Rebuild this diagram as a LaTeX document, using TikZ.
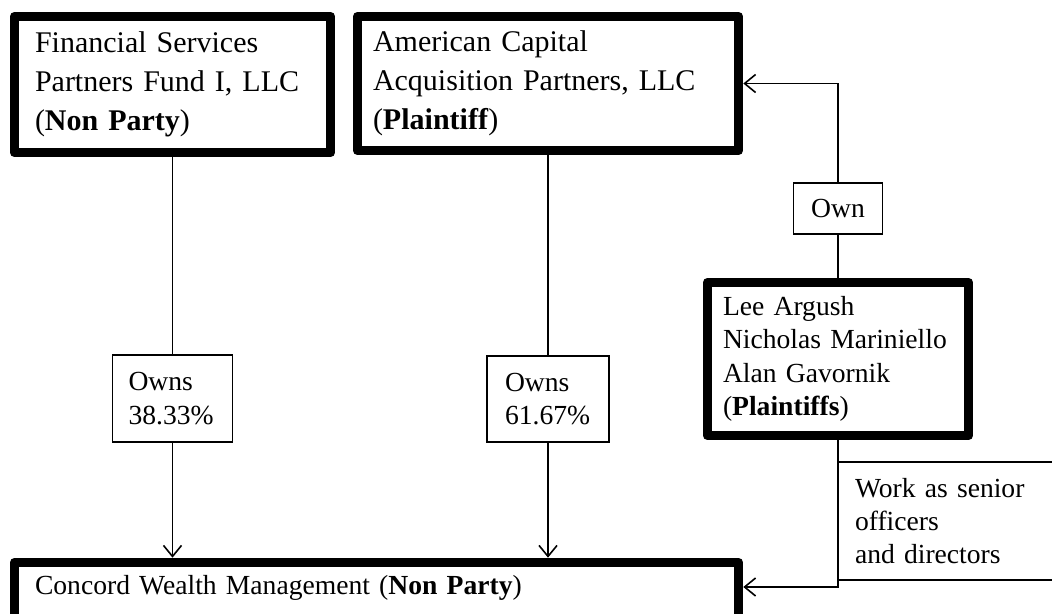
\documentclass[tikz,border=0pt]{standalone}
\usepackage{fontspec}
\setmainfont{Liberation Serif}
\usetikzlibrary{arrows.meta}

\begin{document}
\begin{tikzpicture}[x=0.5pt, y=-0.5pt,
  party/.style={draw, line width=4.75pt, line join=round, outer sep=0pt, anchor=north west, align=left, font=\fontsize{15}{19.5}\selectfont},
  tag/.style={draw, line width=0.8pt, outer sep=0pt, align=left, font=\fontsize{13.8}{16.7}\selectfont},
  link/.style={line width=0.8pt},
  arr/.style={link, -{Straight Barb[length=5.5pt, width=9pt]}, shorten >=2.4pt}]
  \clip (0,0) rectangle (1052,614);
  \node(fs)[party, text width=137.5pt, inner xsep=10.25pt, minimum height=68pt] at (14.5,16.5) {Financial Services\\Partners Fund I, LLC\\(\textbf{Non Party})};
  \node(acap)[party, text width=175pt, inner xsep=7.75pt, minimum height=67pt] at (357.5,16.5) {American Capital\\Acquisition Partners, LLC\\(\textbf{Plaintiff})};
  \node(owners)[party, font=\fontsize{13.8}{16.7}\selectfont, text width=115pt, inner xsep=7.75pt, minimum height=76.5pt] at (707.5,282.5) {Lee Argush\\Nicholas~Mariniello\\Alan Gavornik\\(\textbf{Plaintiffs})};
  \node(cwm)[party, font=\fontsize{13.8}{16.7}\selectfont, text width=341.5pt, inner xsep=10.25pt, inner ysep=6pt, text height=10pt, text depth=30pt] at (14.5,562.5) {Concord Wealth Management (\textbf{Non Party})};
  \node(o1)[tag, text width=44pt, inner xsep=8pt, minimum height=43.5pt] at (172.5,398.5) {Owns\\38.33\%};
  \node(o2)[tag, text width=43pt, inner xsep=9pt, minimum height=43pt] at (548,399) {Owns\\61.67\%};
  \node(own)[tag, minimum width=44.5pt, minimum height=25.5pt] at (838,208.5) {Own};
  \node(work)[tag, anchor=north west, text width=120pt, inner xsep=8.5pt, minimum height=59pt] at (838,462) {Work as senior\\officers\\and directors};
  \coordinate(turn) at (838,587);
  \draw[link] (fs.south) -- (o1.north);
  \draw[arr] (o1.south) -- (o1.south |- cwm.north);
  \draw[link] (acap.south) -- (o2.north);
  \draw[arr] (o2.south) -- (o2.south |- cwm.north);
  \draw[link] (owners.north) -- (own.south);
  \draw[arr] (own.north) |- (acap.east);
  \draw[arr] (owners.south) |- (cwm.east |- turn);
\end{tikzpicture}
\end{document}
